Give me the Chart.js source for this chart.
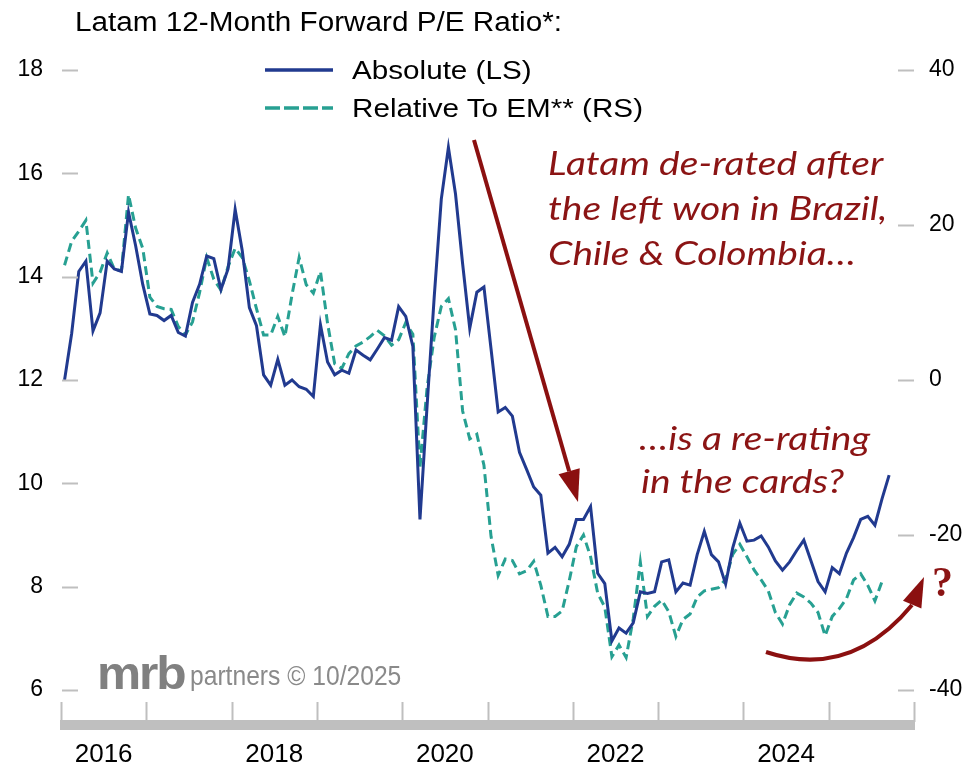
<!DOCTYPE html>
<html>
<head>
<meta charset="utf-8">
<script src="https://cdn.jsdelivr.net/npm/chart.js@4.4.1/dist/chart.umd.min.js"></script>
<style>
  html, body { margin: 0; padding: 0; background: #fff; }
  #wrap { position: relative; width: 978px; height: 771px; overflow: hidden; }
  #chart { position: absolute; left: 0; top: 0; }
  .txt { position: absolute; white-space: nowrap; line-height: 1; transform-origin: left center; }
  .arial { font-family: "Liberation Sans", Arial, sans-serif; color: #000; font-size: 26px; transform: scaleX(1.14); }
  .note { font-family: Lato, "Open Sans", sans-serif; font-style: italic; color: #8b1414; font-size: 32px; transform: scaleX(1.22); }
  .logo { font-family: "Liberation Sans", Arial, sans-serif; color: #8a8a8a; }
</style>
</head>
<body>
<div id="wrap">
  <canvas id="chart" width="978" height="771"></canvas>

  <div class="txt arial" style="left:75px; top:9px; font-size:27px; transform:scaleX(1.1);">Latam 12-Month Forward P/E Ratio*:</div>
  <div class="txt arial" style="left:352px; top:57px;">Absolute (LS)</div>
  <div class="txt arial" style="left:352px; top:95px;">Relative To EM** (RS)</div>

  <div class="txt note" style="left:548px; top:147px;">Latam de-rated after</div>
  <div class="txt note" style="left:548px; top:192px;">the left won in Brazil,</div>
  <div class="txt note" style="left:548px; top:237px;">Chile &amp; Colombia…</div>

  <div class="txt note" style="left:639px; top:422px;">…is a re-rating</div>
  <div class="txt note" style="left:641px; top:465px;">in the cards?</div>

  <div class="txt" style="left:932px; top:558px; font: bold 42px 'Liberation Serif', serif; color:#8b1414;">?</div>

  <div class="txt logo" style="left:97px; top:650px; font-size:46px; font-weight:bold; letter-spacing:-2px; color:#808080; transform:scaleX(1.08);">mrb</div>
  <div class="txt logo" style="left:190px; top:662px; font-size:28px; transform:scaleX(0.88);">partners © 10/2025</div>
</div>

<script>
const startYear = 2016;

// monthly, Jan 2016 - Sep 2025
const absolutePE = [
    12.0, 12.9, 14.1, 14.3, 12.95, 13.3, 14.3, 14.15, 14.1, 15.25, 14.6, 13.85,
    13.28, 13.25, 13.15, 13.25, 12.92, 12.85, 13.5, 13.85, 14.4, 14.35, 13.75, 14.15,
    15.3, 14.5, 13.4, 13.05, 12.1, 11.9, 12.4, 11.9, 12.0, 11.87, 11.82, 11.68,
    13.07, 12.35, 12.1, 12.19, 12.13, 12.58, 12.48, 12.39, 12.6, 12.82, 12.77, 13.42,
    13.23, 12.65, 9.3, 11.5, 13.6, 15.5, 16.5, 15.6, 14.25, 13.0, 13.7, 13.8,
    12.6, 11.38, 11.47, 11.3, 10.6, 10.27, 9.93, 9.77, 8.65, 8.76, 8.58, 8.82,
    9.3, 9.3, 9.55, 8.26, 8.06, 6.95, 7.2, 7.1, 7.3, 7.9, 7.87, 7.9,
    8.48, 8.52, 7.9, 8.07, 8.03, 8.62, 9.07, 8.62, 8.48, 8.05, 8.75, 9.23,
    8.88, 8.9, 8.98, 8.77, 8.5, 8.32, 8.48, 8.7, 8.9, 8.5, 8.1, 7.9,
    8.37, 8.25, 8.65, 8.95, 9.3, 9.36, 9.19, 9.7, 10.16
];

const relativeToEM = [
    14.8, 17.9, 19.2, 20.6, 12.5, 13.9, 16.4, 14.3, 14.1, 23.9, 19.6, 17.0,
    10.7, 9.5, 9.2, 9.1, 6.9, 5.8, 7.5, 11.3, 15.8, 13.0, 11.6, 14.6,
    17.0, 15.8, 12.8, 9.2, 5.8, 5.8, 8.2, 5.6, 11.0, 15.8, 12.3, 11.2,
    14.0, 7.3, 2.1, 1.5, 3.4, 4.4, 4.9, 5.6, 6.4, 5.7, 4.5, 5.2,
    7.4, 5.9, -11.3, -1.0, 5.5, 9.5, 10.5, 6.5, -4.0, -7.6, -7.0, -11.0,
    -20.2, -25.2, -23.1, -23.3, -25.0, -24.6, -23.4, -26.5, -30.5, -30.5, -29.8, -25.9,
    -21.5, -20.0, -22.8, -27.5, -29.3, -35.7, -34.2, -35.8, -30.8, -23.5, -30.5, -29.2,
    -28.4, -29.9, -33.1, -30.9, -30.2, -28.0, -27.2, -27.0, -26.8, -25.7, -22.5, -21.2,
    -22.8, -24.5, -25.8, -27.2, -30.0, -31.5, -29.0, -27.5, -28.0, -28.8, -30.0, -33.0,
    -30.5, -29.5, -28.2, -25.8, -25.0, -26.5, -28.5, -26.0
];

const yearLabels = ["2016", "2018", "2020", "2022", "2024"];
const leftTicks = [6, 8, 10, 12, 14, 16, 18];
const rightTicks = [-40, -20, 0, 20, 40];

const navy = "#213a8f";
const teal = "#27a092";
const darkRed = "#8b1010";
const axisGray = "#bfbfbf";

function toPoints(values) {
    return values.map((v, i) => ({ x: startYear + (i + 0.5) / 12, y: v }));
}

const tickFont = { family: "'Liberation Sans', Arial, sans-serif", size: 23 };

function drawHead(ctx, tipX, tipY, fromX, fromY, len, half) {
    const a = Math.atan2(tipY - fromY, tipX - fromX);
    const bx = tipX - len * Math.cos(a);
    const by = tipY - len * Math.sin(a);
    ctx.beginPath();
    ctx.moveTo(tipX, tipY);
    ctx.lineTo(bx + half * Math.sin(a), by - half * Math.cos(a));
    ctx.lineTo(bx - half * Math.sin(a), by + half * Math.cos(a));
    ctx.closePath();
    ctx.fill();
    return [bx, by];
}

const decorations = {
    id: "decorations",
    afterDraw(chart) {
        const ctx = chart.ctx;
        const area = chart.chartArea;
        const { x, y, y2 } = chart.scales;
        ctx.save();

        // short tick marks inside the plot
        ctx.strokeStyle = axisGray;
        ctx.lineWidth = 2;
        leftTicks.forEach(v => {
            const py = Math.round(y.getPixelForValue(v)) + 0.5;
            ctx.beginPath();
            ctx.moveTo(area.left + 1, py);
            ctx.lineTo(area.left + 17, py);
            ctx.stroke();
        });
        rightTicks.forEach(v => {
            const py = Math.round(y2.getPixelForValue(v)) + 0.5;
            ctx.beginPath();
            ctx.moveTo(area.right - 16, py);
            ctx.lineTo(area.right, py);
            ctx.stroke();
        });

        // year ticks and thick base bar
        for (let yr = 2016; yr <= 2026; yr++) {
            const px = Math.round(x.getPixelForValue(yr)) + 0.5;
            ctx.beginPath();
            ctx.moveTo(px, area.bottom + 12);
            ctx.lineTo(px, area.bottom + 32);
            ctx.stroke();
        }
        ctx.fillStyle = axisGray;
        const x0 = x.getPixelForValue(2016);
        const x1 = x.getPixelForValue(2026);
        ctx.fillRect(x0 - 1, area.bottom + 30, x1 - x0 + 2, 10);

        // legend samples
        ctx.lineWidth = 3.5;
        ctx.strokeStyle = navy;
        ctx.beginPath();
        ctx.moveTo(265, 70);
        ctx.lineTo(333, 70);
        ctx.stroke();
        ctx.strokeStyle = teal;
        ctx.setLineDash([15, 4]);
        ctx.beginPath();
        ctx.moveTo(265, 108);
        ctx.lineTo(333, 108);
        ctx.stroke();
        ctx.setLineDash([]);

        // straight arrow
        ctx.strokeStyle = darkRed;
        ctx.fillStyle = darkRed;
        ctx.lineWidth = 4;
        const [bx, by] = drawHead(ctx, 578, 502, 474, 140, 32, 11);
        ctx.beginPath();
        ctx.moveTo(474, 140);
        ctx.lineTo(bx, by);
        ctx.stroke();

        // curved arrow
        ctx.beginPath();
        ctx.moveTo(766, 652);
        ctx.quadraticCurveTo(850, 680, 912, 605);
        ctx.stroke();
        drawHead(ctx, 924, 577, 912, 605, 30, 10);

        ctx.restore();
    }
};

new Chart(document.getElementById("chart"), {
    type: "line",
    data: {
        datasets: [{
            label: "Absolute (LS)",
            data: toPoints(absolutePE),
            yAxisID: "y",
            borderColor: navy,
            borderWidth: 3,
            pointRadius: 0,
            tension: 0
        }, {
            label: "Relative To EM** (RS)",
            data: toPoints(relativeToEM),
            yAxisID: "y2",
            borderColor: teal,
            borderWidth: 3,
            borderDash: [9, 5],
            pointRadius: 0,
            tension: 0
        }]
    },
    options: {
        responsive: false,
        animation: false,
        layout: { padding: { top: 70 } },
        plugins: {
            legend: { display: false },
            tooltip: { enabled: false }
        },
        scales: {
            x: {
                type: "linear",
                min: 2016,
                max: 2026,
                grid: { display: false, drawTicks: false },
                border: { display: false },
                afterBuildTicks: s => {
                    s.ticks = yearLabels.map(l => ({ value: Number(l) + 0.5 }));
                },
                afterFit: s => { s.height = 81; },
                ticks: {
                    callback: v => String(Math.floor(v)),
                    font: { family: tickFont.family, size: 26 },
                    color: "#000",
                    padding: 49,
                    maxRotation: 0,
                    autoSkip: false
                }
            },
            y: {
                position: "left",
                min: 6,
                max: 18,
                grid: { display: false, drawTicks: false },
                border: { display: false },
                afterBuildTicks: s => {
                    s.ticks = leftTicks.map(v => ({ value: v }));
                },
                afterFit: s => { s.width = 61; },
                ticks: { font: tickFont, color: "#000", padding: 18 }
            },
            y2: {
                position: "right",
                min: -40,
                max: 40,
                grid: { display: false, drawTicks: false },
                border: { display: false },
                afterBuildTicks: s => {
                    s.ticks = rightTicks.map(v => ({ value: v }));
                },
                afterFit: s => { s.width = 64; },
                ticks: { font: tickFont, color: "#000", padding: 15 }
            }
        }
    },
    plugins: [decorations]
});
</script>
</body>
</html>
